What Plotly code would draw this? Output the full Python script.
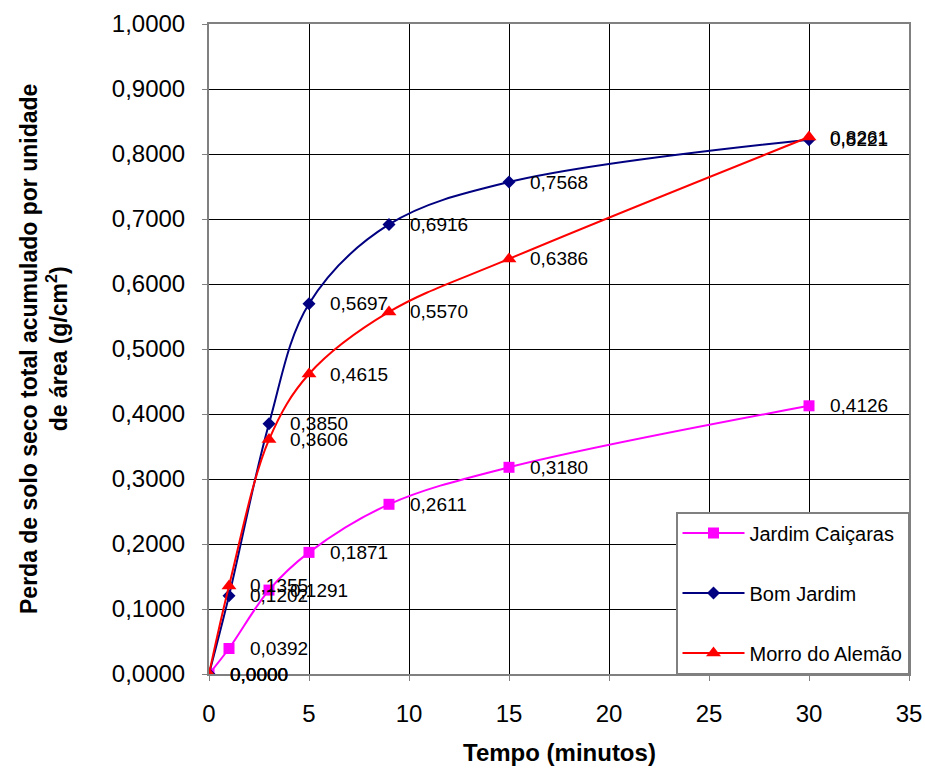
import plotly.graph_objects as go

tempo = [0, 1, 3, 5, 9, 15, 30]
jardim_caicaras = [0.0000, 0.0392, 0.1291, 0.1871, 0.2611, 0.3180, 0.4126]
bom_jardim = [0.0000, 0.1202, 0.3850, 0.5697, 0.6916, 0.7568, 0.8221]
morro_do_alemao = [0.0000, 0.1355, 0.3606, 0.4615, 0.5570, 0.6386, 0.8261]

series = [
    ("Jardim Caiçaras", jardim_caicaras, "#FF00FF", "square", 11),
    ("Bom Jardim", bom_jardim, "#000080", "diamond", 10),
    ("Morro do Alemão", morro_do_alemao, "#FF0000", "triangle-up", 13),
]

fig = go.Figure()
annotations = []
for i, (name, vals, color, sym, size) in enumerate(series):
    fig.add_trace(go.Scatter(
        x=tempo, y=vals, name=name, mode="lines+markers",
        line=dict(color=color, width=2, shape="spline", smoothing=1.0),
        marker=dict(symbol=sym, size=size, color=color),
        legendgroup=f"g{i}",
    ))
    for xv, yv in zip(tempo, vals):
        annotations.append(dict(
            x=xv, y=yv, xref="x", yref="y",
            text=f"{yv:.4f}".replace(".", ","),
            showarrow=False, xanchor="left", yanchor="middle",
            xshift=19, font=dict(family="Liberation Sans, Arial", size=19, color="black"),
        ))

annotations.append(dict(
    text="Perda de solo seco total acumulado por unidade<br>de área (g/cm<sup>2</sup>)",
    xref="paper", yref="paper", x=0, y=0.5, xshift=-165,
    xanchor="center", yanchor="middle", textangle=-90, showarrow=False,
    font=dict(family="Liberation Sans, Arial", size=23, color="black", weight="bold"),
))
annotations.append(dict(
    text="Tempo (minutos)", xref="paper", yref="paper", x=0.5, y=0, yshift=-78,
    xanchor="center", yanchor="middle", showarrow=False,
    font=dict(family="Liberation Sans, Arial", size=24, color="black", weight="bold"),
))

fig.update_layout(
    width=925, height=772,
    margin=dict(l=209, r=16, t=24, b=98),
    paper_bgcolor="white", plot_bgcolor="white",
    separators=",.",
    font=dict(family="Liberation Sans, Arial", color="black"),
    annotations=annotations,
    showlegend=True,
    legend=dict(
        x=1, xanchor="right", y=0, yanchor="bottom",
        bgcolor="white", bordercolor="#808080", borderwidth=1.5,
        font=dict(size=20, color="black"),
        tracegroupgap=31, itemwidth=62,
    ),
)
fig.update_xaxes(
    range=[0, 35], dtick=5, tick0=0, automargin=False,
    showgrid=True, gridcolor="black", gridwidth=1,
    zeroline=False,
    showline=True, linecolor="#808080", linewidth=2, mirror=True,
    ticks="outside", ticklen=5, tickcolor="#808080",
    tickfont=dict(size=24, color="black"),
    ticklabelstandoff=12,
)
fig.update_yaxes(
    range=[0, 1.0], dtick=0.1, tick0=0, tickformat=".4f", automargin=False,
    showgrid=True, gridcolor="black", gridwidth=1,
    zeroline=False,
    showline=True, linecolor="#808080", linewidth=2, mirror=True,
    ticks="outside", ticklen=5, tickcolor="#808080",
    tickfont=dict(size=24, color="black"),
    ticklabelstandoff=12,
)

fig.write_html("out.html", config={"displayModeBar": False},
               post_script="document.body.style.margin='0';")
